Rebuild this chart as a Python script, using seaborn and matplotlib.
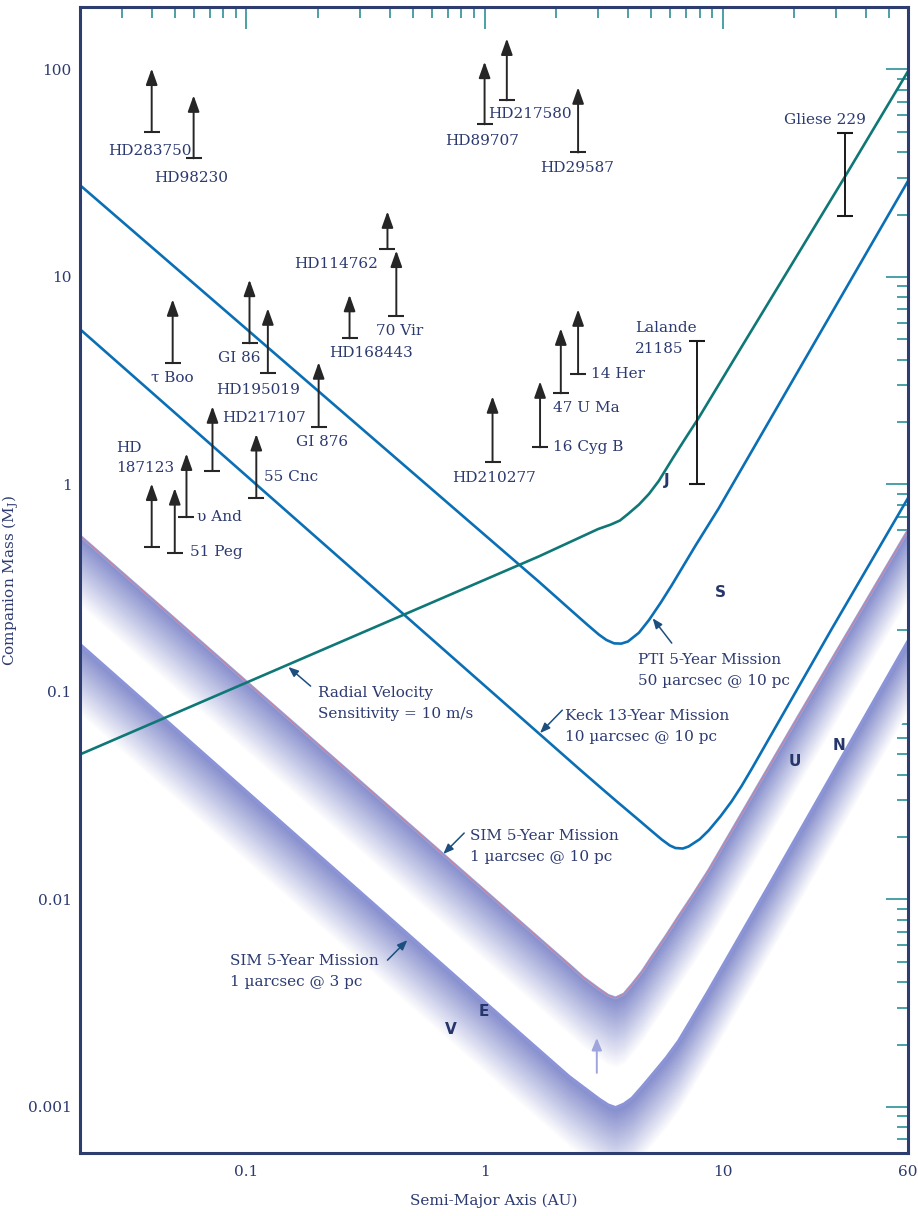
import matplotlib
matplotlib.use("Agg")
import numpy as np
import matplotlib.pyplot as plt
import seaborn as sns
from matplotlib.ticker import FixedLocator, FixedFormatter, NullFormatter

# --- detection limit curves (semi-major axis AU, mass M_J) ---
pti_a = [0.02, 1.69, 2.33, 2.7, 3.02, 3.25, 3.5, 3.75, 4.0, 4.45, 4.9, 5.5,
         6.11, 7.7, 9.62, 60]
pti_m = [27.7, 0.34, 0.245, 0.211, 0.189, 0.178, 0.1715, 0.171, 0.175, 0.193,
         0.222, 0.27, 0.327, 0.509, 0.767, 29]

keck_a = [0.02, 2.5, 3.02, 3.6, 4.45, 5.0, 5.56, 6.0, 6.33, 6.8, 7.19, 8.0,
          8.73, 9.8, 10.9, 12, 13.3, 28.6, 60]
keck_m = [5.6, 0.0425, 0.0352, 0.0296, 0.0241, 0.0215, 0.0194, 0.0182, 0.0177,
          0.0176, 0.018, 0.0195, 0.0215, 0.0252, 0.0297, 0.0352, 0.043, 0.2, 0.86]

rv_a = [0.02, 1.69, 3.0, 3.38, 3.7, 4.0, 4.45, 4.9, 5.39, 6.2, 7.0, 7.9, 12,
        32.6, 60]
rv_m = [0.05, 0.45, 0.61, 0.64, 0.67, 0.72, 0.80, 0.9, 1.04, 1.35, 1.68, 2.08,
        4.6, 30.4, 98]

sim10_a = [0.02, 2.26, 2.6, 3.02, 3.3, 3.55, 3.85, 4.17, 4.6, 5.05, 5.8, 6.5,
           7.5, 8.73, 20.9, 60]
sim10_m = [0.565, 0.00485, 0.0042, 0.0037, 0.00345, 0.00335, 0.0035, 0.0039,
           0.0045, 0.0053, 0.0067, 0.0082, 0.0105, 0.0138, 0.077, 0.6]

sim3_a = [0.02, 1.4, 2.26, 2.6, 3.02, 3.3, 3.55, 3.85, 4.17, 4.6, 5.05, 5.8,
          6.53, 7.5, 8.7, 16.6, 60]
sim3_m = [0.169, 0.00227, 0.0014, 0.00124, 0.00109, 0.00102, 0.00099, 0.00103,
          0.0011, 0.00125, 0.00142, 0.00172, 0.00207, 0.0027, 0.0036, 0.0131,
          0.175]

# --- companions: lower limit (M sin i) with arrow ---
comp_names = ["HD283750", "HD98230", "HD89707", "HD217580", "HD29587",
              "HD114762", "70 Vir", "HD168443", "τ Boo", "GI 86", "HD195019",
              "HD217107", "GI 876", "55 Cnc", "HD\n187123", "51 Peg", "υ And",
              "HD210277", "16 Cyg B", "47 U Ma", "14 Her"]
comp_a = [0.040, 0.060, 1.00, 1.24, 2.47,
          0.391, 0.426, 0.271, 0.049, 0.103, 0.123,
          0.072, 0.201, 0.110, 0.040, 0.050, 0.056,
          1.08, 1.71, 2.09, 2.47]
comp_m = [50.2, 37.3, 54.4, 71, 39.8,
          13.7, 6.5, 5.06, 3.84, 4.79, 3.44,
          1.16, 1.9, 0.86, 0.50, 0.47, 0.695,
          1.29, 1.51, 2.75, 3.4]
comp_top = [101, 75, 109, 141, 82,
            20.7, 13.4, 8.2, 7.8, 9.7, 7.06,
            2.38, 3.88, 1.75, 1.01, 0.96, 1.41,
            2.66, 3.14, 5.65, 6.98]

# --- companions with mass range ---
range_names = ["Gliese 229", "Lalande\n21185"]
range_a = [32.6, 7.78]
range_lo = [19.7, 1.0]
range_hi = [49.5, 4.9]

# --- solar system planets ---
sol_names = ["J", "S", "U", "N", "V", "E"]
sol_a = [5.8, 9.8, 20, 30.9, 0.72, 0.99]
sol_m = [1.05, 0.30, 0.046, 0.055, 0.00235, 0.0029]

# label offsets (pixels) and alignment for the companion labels
lab_off = [(-2, -19, "center"), (-2, -20, "center"), (-2, -17, "center"),
           (23, -14, "center"), (-1, -16, "center"), (-51, -15, "center"),
           (3, -15, "center"), (21, -15, "center"), (0, -15, "center"),
           (-10, -15, "center"), (-10, -17, "center"), (10, 53, "left"),
           (3, -15, "center"), (8, 21, "left"), (-36, 89, "left"),
           (15, 1, "left"), (11, 0, "left"), (1, -16, "center"),
           (13, 0, "left"), (-8, -15, "left"), (13, 0, "left")]

NAVY = "#2c3a70"
TEAL_TICK = "#3b9aa0"
BLUE = "#0a6fb5"
RV_TEAL = "#0f7876"
LAV = np.array([0x84, 0x8c, 0xcc]) / 255.0

sns.set_theme(style="white")
plt.rcParams["font.family"] = ["DejaVu Serif"]
plt.rcParams["mathtext.fontset"] = "dejavuserif"

fig = plt.figure(figsize=(9.18, 12.16), dpi=100)
ax = fig.add_axes([80 / 918, 63 / 1216, 828 / 918, 1146 / 1216])
ax.set_xscale("log")
ax.set_yscale("log")
ax.set_xlim(0.02, 60)
ax.set_ylim(0.0006, 200)


def gradient_band(a, m, depth=0.34, n=50):
    # fade from lavender at the curve to white below it
    m = np.asarray(m, dtype=float)
    for i in range(n, 0, -1):
        t = i / n
        shade = LAV * (1 - t) + np.ones(3) * t
        ax.fill_between(a, m * 10 ** (-depth * t), m, color=shade,
                        lw=0, zorder=1)


gradient_band(sim10_a, sim10_m)
gradient_band(sim3_a, sim3_m)

sns.lineplot(x=sim10_a, y=sim10_m, ax=ax, color="#9aa0d8", lw=2.2, sort=False, zorder=2)
sns.lineplot(x=sim10_a, y=sim10_m, ax=ax, color="#d07a8c", lw=0.6, sort=False, zorder=2)
sns.lineplot(x=sim3_a, y=sim3_m, ax=ax, color="#8b94d6", lw=2.6, sort=False, zorder=2)

sns.lineplot(x=pti_a, y=pti_m, ax=ax, color=BLUE, lw=1.9, sort=False, zorder=3)
sns.lineplot(x=keck_a, y=keck_m, ax=ax, color=BLUE, lw=1.9, sort=False, zorder=3)
sns.lineplot(x=rv_a, y=rv_m, ax=ax, color=RV_TEAL, lw=1.9, sort=False, zorder=3)

# companions with lower limits
for name, a, lo, hi, (dx, dy, ha) in zip(comp_names, comp_a, comp_m, comp_top, lab_off):
    ax.annotate("", xy=(a, hi), xytext=(a, lo),
                arrowprops=dict(arrowstyle="-|>,head_length=0.7,head_width=0.25",
                                mutation_scale=14, color="#262626", lw=1.4,
                                shrinkA=0, shrinkB=0), zorder=4)
    ax.plot([a], [lo], marker="_", ms=11, mew=1.5, color="#262626", zorder=4)
    ax.annotate(name, xy=(a, lo), xytext=(dx, dy), textcoords="offset pixels",
                ha=ha, va="center", fontsize=11, color=NAVY, linespacing=1.6,
                zorder=5)

# companions with mass ranges
for name, a, lo, hi in zip(range_names, range_a, range_lo, range_hi):
    ax.plot([a, a], [lo, hi], color="#1a1a1a", lw=1.4, zorder=4)
    ax.plot([a, a], [lo, hi], ls="none", marker="_", ms=11, mew=1.5,
            color="#1a1a1a", zorder=4)
ax.annotate(range_names[0], xy=(range_a[0], range_hi[0]), xytext=(-20, 13),
            textcoords="offset pixels", ha="center", va="center",
            fontsize=11, color=NAVY)
ax.annotate(range_names[1], xy=(range_a[1], range_hi[1]), xytext=(-62, 3),
            textcoords="offset pixels", ha="left", va="center",
            fontsize=11, color=NAVY, linespacing=1.6)

# solar system planets
for name, a, m in zip(sol_names, sol_a, sol_m):
    ax.text(a, m, name, ha="center", va="center", fontsize=11,
            fontweight="bold", family="DejaVu Sans", color="#26366b", zorder=5)

# curve labels
arrow_kw = dict(arrowstyle="-|>,head_length=0.5,head_width=0.2",
                mutation_scale=12, color="#1d4f7e", lw=1.1,
                shrinkA=0, shrinkB=0)
curve_labels = [
    ("PTI 5-Year Mission\n50 µarcsec @ 10 pc", (4.40, 0.1535), (5.08, 0.2265), (6.11, 0.172)),
    ("Keck 13-Year Mission\n10 µarcsec @ 10 pc", (2.18, 0.0826), (1.71, 0.0634), (2.12, 0.0817)),
    ("Radial Velocity\nSensitivity = 10 m/s", (0.199, 0.1066), (0.150, 0.132), (0.186, 0.1067)),
    ("SIM 5-Year Mission\n1 µarcsec @ 10 pc", (0.87, 0.0218), (0.671, 0.01656), (0.821, 0.0209)),
    ("SIM 5-Year Mission\n1 µarcsec @ 3 pc", (0.0851, 0.00546), (0.474, 0.00637), (0.391, 0.0051)),
]
for txt, tpos, head, tail in curve_labels:
    ax.text(tpos[0], tpos[1], txt, ha="left", va="top", fontsize=11,
            color=NAVY, linespacing=1.65, zorder=5)
    ax.annotate("", xy=head, xytext=tail, arrowprops=arrow_kw, zorder=5)

# small lavender arrow between the SIM bands
ax.annotate("", xy=(2.96, 0.00215), xytext=(2.96, 0.00146),
            arrowprops=dict(arrowstyle="-|>,head_length=0.6,head_width=0.25",
                            mutation_scale=12, color="#9ea5dc", lw=1.4,
                            shrinkA=0, shrinkB=0), zorder=3)

# axes styling
for sp in ax.spines.values():
    sp.set_color("#2d3d70")
    sp.set_linewidth(2.2)
    sp.set_zorder(6)

ax.xaxis.set_major_locator(FixedLocator([0.1, 1, 10, 60]))
ax.xaxis.set_major_formatter(FixedFormatter(["0.1", "1", "10", "60"]))
xminor = [0.03, 0.04, 0.05, 0.06, 0.07, 0.08, 0.09,
          0.2, 0.3, 0.4, 0.5, 0.6, 0.7, 0.8, 0.9,
          2, 3, 4, 5, 6, 7, 8, 9, 20, 30, 40, 50]
ax.xaxis.set_minor_locator(FixedLocator(xminor))
ax.xaxis.set_minor_formatter(NullFormatter())

ax.yaxis.set_major_locator(FixedLocator([0.001, 0.01, 0.1, 1, 10, 100]))
ax.yaxis.set_major_formatter(FixedFormatter(["0.001", "0.01", "0.1", "1", "10", "100"]))
yminor = [0.0007, 0.0008, 0.0009]
for dec in [0.001, 0.01, 0.1, 1, 10]:
    yminor += [dec * k for k in range(2, 10)]
ax.yaxis.set_minor_locator(FixedLocator(yminor))
ax.yaxis.set_minor_formatter(NullFormatter())

ax.tick_params(which="both", direction="in", top=True, right=True,
               color=TEAL_TICK, labelcolor=NAVY, labelsize=11)
ax.tick_params(which="major", length=16, width=1.3)
ax.tick_params(which="minor", length=8, width=1.3)
ax.tick_params(axis="x", which="major", pad=9)
ax.tick_params(axis="y", which="major", pad=6)

ax.set_xlabel("Semi-Major Axis (AU)", fontsize=11, color=NAVY, labelpad=10)
ax.set_ylabel("Companion Mass (M$_\\mathregular{J}$)", fontsize=11, color=NAVY, labelpad=5)

fig.savefig("out.png", dpi=100)
